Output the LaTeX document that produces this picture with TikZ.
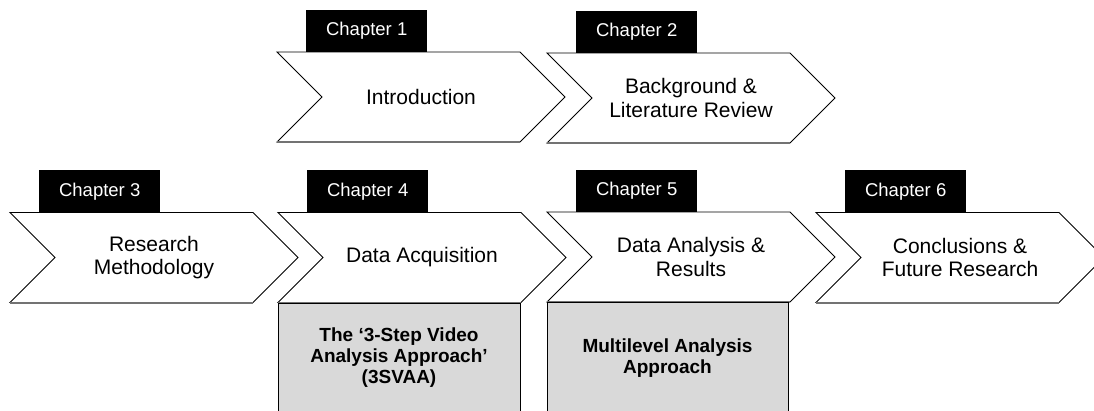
\documentclass[tikz,border=0pt]{standalone}
\usepackage{fontspec}
\setmainfont{Liberation Sans}
\begin{document}
\begin{tikzpicture}[x=1pt,y=-1pt,
  chevshape/.style={draw=black,line width=0.9pt,fill=white,line join=miter},
  chevbase/.style={draw=black!55,line width=1.7pt},
  tabbox/.style={fill=black,text=white,inner sep=0pt,minimum width=121pt,minimum height=42pt,
    font=\fontsize{18.5}{20}\selectfont},
  chevtext/.style={align=center,inner sep=0pt,font=\fontsize{21}{23.5}\selectfont},
  notebox/.style={draw=black,line width=0.9pt,fill=black!15},
  notetext/.style={align=center,inner sep=0pt,font=\fontsize{19}{21}\selectfont\bfseries},
  pics/chev/.style n args={2}{code={
    \path[chevshape] (0,0) -- (243,0) -- (288,45) -- (243,90) -- (0,90) -- (45,45) -- cycle;
    \draw[chevbase] (0,90.3) -- (243,90.3);
    \node[tabbox,anchor=south west] (tab) at (29,0) {#1};
    \node[chevtext] (label) at (144,45) {#2};
  }}]
\useasboundingbox (0,0) rectangle (1094,410);
\clip (0,0) rectangle (1094,410);

% top row
\pic (ch1) at (277,52) {chev={Chapter 1}{Introduction}};
\pic (ch2) at (547,53) {chev={Chapter 2}{Background \&\\Literature Review}};

% bottom row
\pic (ch3) at (10,212.5) {chev={Chapter 3}{Research\\Methodology}};
\pic (ch4) at (278,212.5) {chev={Chapter 4}{Data Acquisition}};
\pic (ch5) at (547,212) {chev={Chapter 5}{Data Analysis \&\\Results}};
\pic (ch6) at (816,212.5) {chev={Chapter 6}{Conclusions \&\\Future Research}};

% method boxes under chapters 4 and 5
\draw[notebox] (278,303) rectangle (520,420);
\node[notetext] (svaa) at (399,358) {The ‘3-Step Video\\Analysis Approach’\\(3SVAA)};
\draw[notebox] (547,302.5) rectangle (788,420);
\node[notetext] (mla) at (667.5,358) {Multilevel Analysis\\Approach};
\end{tikzpicture}
\end{document}
